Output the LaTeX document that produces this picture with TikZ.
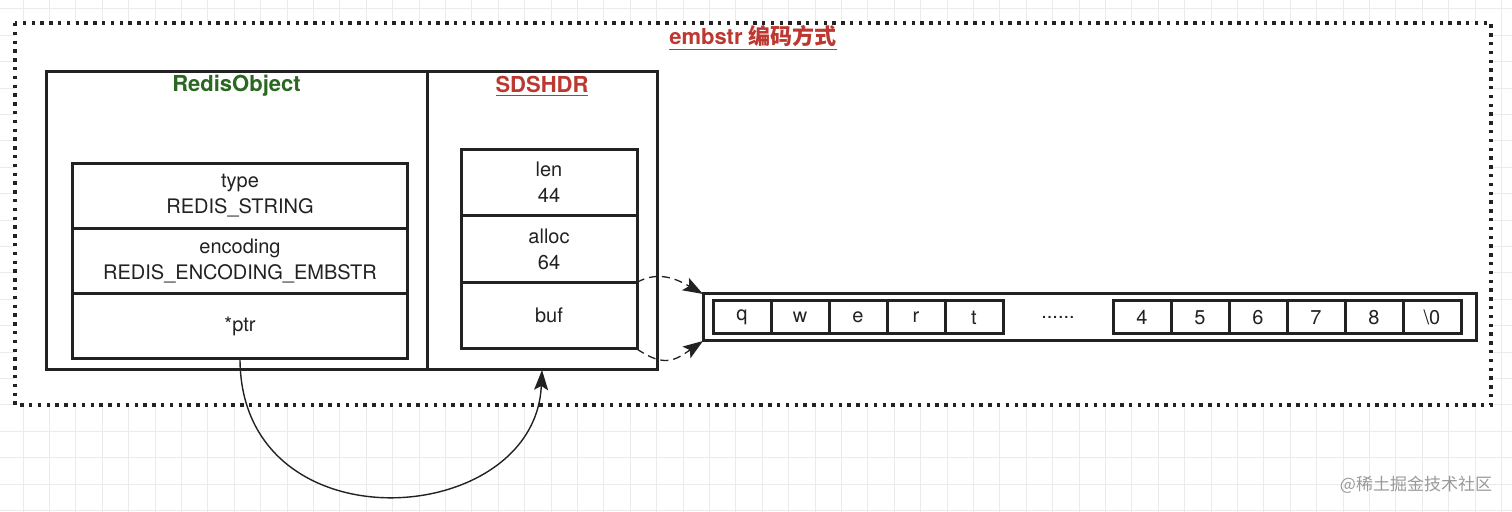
\documentclass[tikz,border=0pt]{standalone}
\usepackage{fontspec}
\setmainfont{TeX Gyre Heros}
\newfontfamily\cjk{Noto Sans CJK SC}
\usetikzlibrary{positioning,arrows.meta}
\definecolor{objgreen}{RGB}{42,104,34}
\definecolor{hdrred}{RGB}{188,56,48}
\definecolor{ink}{RGB}{34,34,34}
\tikzset{>={Stealth[length=10pt,width=7pt,inset=2pt]},
box/.style={rectangle,draw=ink,line width=1.5pt,outer sep=0pt,inner sep=0pt},
field/.style={box,align=center,text=ink,font=\fontsize{10pt}{13pt}\selectfont},
objfield/.style={field,minimum width=167.5pt,minimum height=32.5pt},
sdsfield/.style={field,minimum width=88pt,minimum height=33.3pt},
cell/.style={box,minimum width=29pt,minimum height=16.5pt,text=ink,font=\fontsize{10pt}{12pt}\selectfont},
ttl/.style={font=\fontsize{11pt}{13pt}\selectfont\bfseries},
frame/.style={draw=ink,fill=white,line width=1.7pt,dash pattern=on 1.7pt off 2.7pt},
gridline/.style={draw=black!8,line width=0.5pt},
bufarrow/.style={->,draw=ink,line width=0.65pt,dash pattern=on 4pt off 2.5pt},
ptrarrow/.style={->,draw=ink,line width=0.7pt},
}
\begin{document}
\begin{tikzpicture}[x=0.5pt,y=-0.5pt]
	\useasboundingbox (0,0) rectangle (1512,512);
	% background grid
	\foreach \gx in {0,...,56} \draw[gridline] ({23+26.4*\gx},0) -- ({23+26.4*\gx},512);
	\foreach \gy in {0,...,19} \draw[gridline] (0,{9+26.4*\gy}) -- (1512,{9+26.4*\gy});
	\draw[frame] (15,23) rectangle (1491,405);
	\node[ttl,text=hdrred] (title) at (753,38) {\underline{embstr {\cjk 编码方式}}};

	% redisObject and sdshdr
	\node[box,minimum width=190.5pt,minimum height=149pt] (robj) at (236.5,221) {};
	\node[box,minimum width=115pt,minimum height=149pt,right=0pt of robj] (sds) {};
	\node[ttl,text=objgreen,yshift=-7pt] (robjname) at (robj.north) {RedisObject};
	\node[ttl,text=hdrred,yshift=-7pt] (sdsname) at (sds.north) {\underline{SDSHDR}};

	\node[objfield] (type) at (240,196) {type\\REDIS\_STRING};
	\node[objfield,below=0pt of type] (enc) {encoding\\REDIS\_ENCODING\_EMBSTR};
	\node[objfield,below=0pt of enc] (ptr) {*ptr};

	\node[sdsfield] (len) at (549,182.5) {len\\44};
	\node[sdsfield,below=0pt of len] (alloc) {alloc\\64};
	\node[sdsfield,below=0pt of alloc] (buf) {buf};

	% buf array
	\node[box,minimum width=386.5pt,minimum height=23.5pt] (arr) at (1089.5,317.5) {};
	\node[cell] (cq) at (742,317.5) {q};
	\node[cell,right=0pt of cq] (cw) {w};
	\node[cell,right=0pt of cw] (ce) {e};
	\node[cell,right=0pt of ce] (cr) {r};
	\node[cell,right=0pt of cr] (ct) {t};
	\node[text=ink,font=\fontsize{10pt}{12pt}\selectfont] (dots) at (1058,317.5) {......};
	\node[cell] (c4) at (1142,317.5) {4};
	\node[cell,right=0pt of c4] (c5) {5};
	\node[cell,right=0pt of c5] (c6) {6};
	\node[cell,right=0pt of c6] (c7) {7};
	\node[cell,right=0pt of c7] (c8) {8};
	\node[cell,right=0pt of c8] (cend) {\textbackslash0};

	\draw[ptrarrow] (ptr.south) .. controls +(0,191) and +(-7,160) .. (sds.south);
	\draw[bufarrow] (buf.north east) .. controls +(22.5,-13) and +(-23,-13) .. (arr.north west);
	\draw[bufarrow] (buf.south east) .. controls +(27.5,19) and +(-27.5,19) .. (arr.south west);

	\node[text=black!40,font=\cjk\fontsize{8.5pt}{10pt}\selectfont] (mark) at (1416,485) {@稀土掘金技术社区};
\end{tikzpicture}
\end{document}
